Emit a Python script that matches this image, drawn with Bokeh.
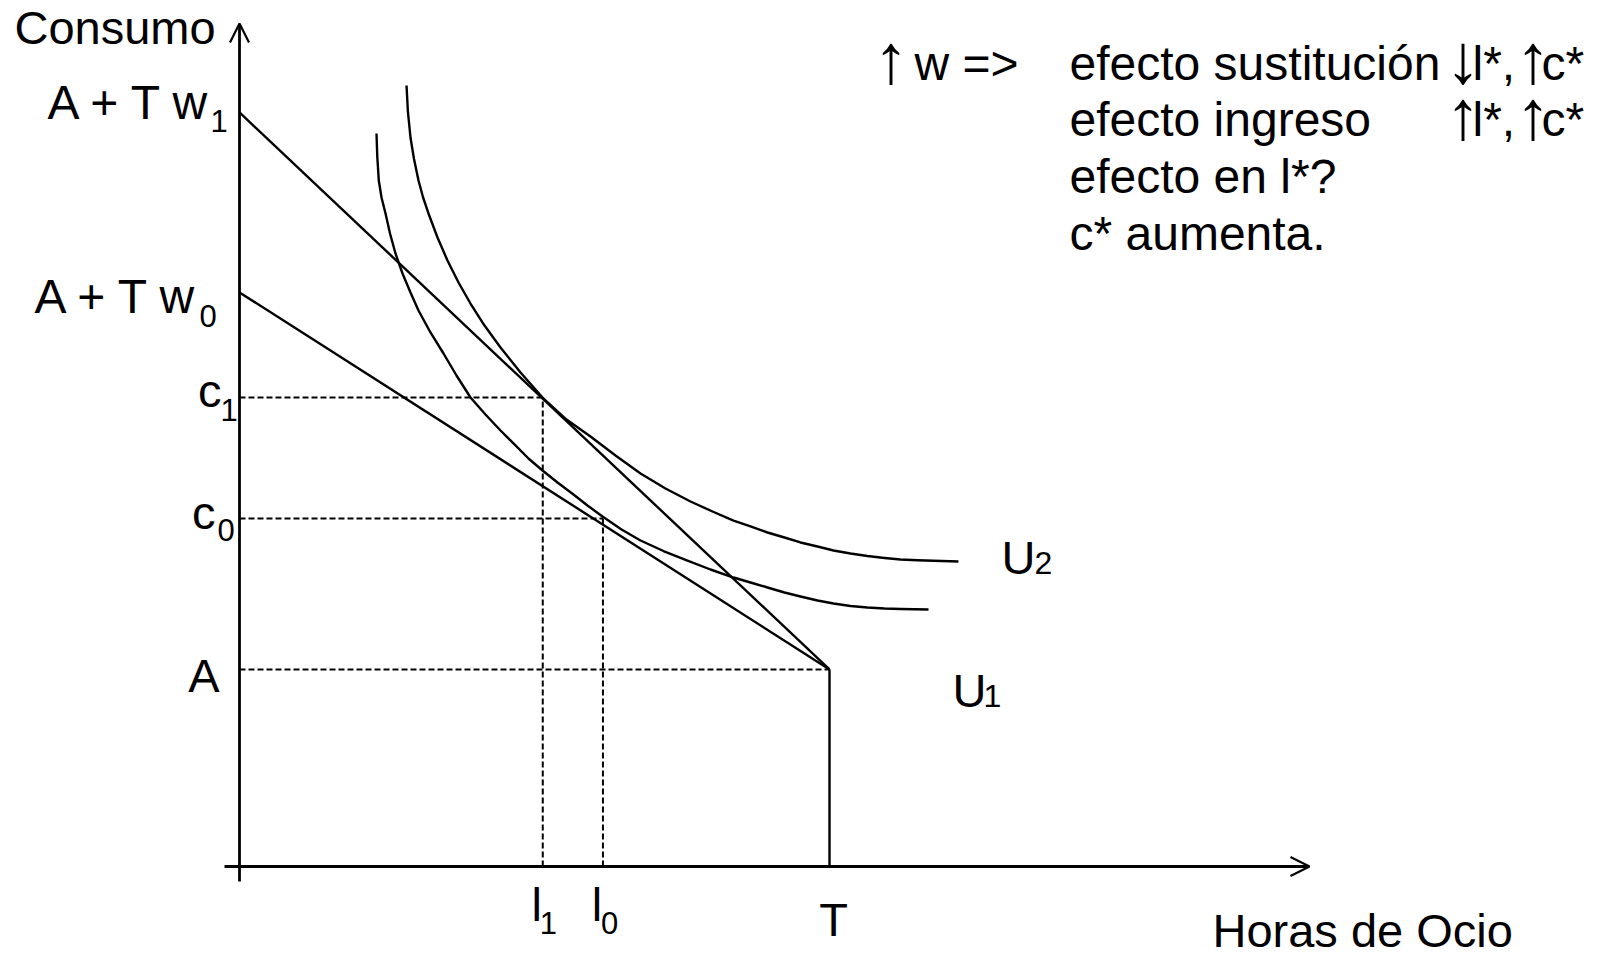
from bokeh.plotting import figure
from bokeh.models import Range1d, Arrow, OpenHead
from bokeh.core.properties import value
from bokeh.embed import file_html
from bokeh.resources import INLINE

# ---------------- data (units: T = 10) ----------------
T = 10.0
A = 3.34
A_TW1 = 12.78      # intercept of budget line with w1
A_TW0 = 9.73       # intercept of budget line with w0
c1 = 7.95
c0 = 5.90
l1 = 5.14
l0 = 6.16

# indifference curve U1 (inner)
u1_l = [2.322, 2.336, 2.361, 2.407, 2.475, 2.551, 2.644, 2.763, 2.898, 3.034,
        3.237, 3.458, 3.678, 3.915, 4.169, 4.424, 4.661, 4.898, 5.136, 5.390,
        5.661, 5.898, 6.153, 6.475, 6.797, 7.186, 7.593, 7.983, 8.373, 8.661,
        8.949, 9.237, 9.508, 9.797, 10.068, 10.356, 10.644, 10.932, 11.203, 11.678]
u1_c = [12.424, 12.017, 11.627, 11.339, 11.068, 10.729, 10.390, 10.051, 9.729, 9.424,
        9.051, 8.695, 8.322, 7.949, 7.661, 7.390, 7.153, 6.915, 6.712, 6.508,
        6.305, 6.119, 5.932, 5.712, 5.525, 5.347, 5.186, 5.034, 4.898, 4.814,
        4.729, 4.644, 4.576, 4.508, 4.458, 4.415, 4.390, 4.373, 4.364, 4.356]

# indifference curve U2 (outer)
u2_l = [2.831, 2.854, 2.898, 2.956, 3.034, 3.112, 3.203, 3.356, 3.525, 3.712,
        3.915, 4.153, 4.424, 4.763, 5.136, 5.542, 5.949, 6.373, 6.797, 7.220,
        7.644, 8.017, 8.373, 8.661, 8.949, 9.237, 9.508, 9.797, 10.068, 10.356,
        10.644, 10.932, 11.203, 11.492, 11.763, 12.186]
u2_c = [13.237, 12.797, 12.356, 12.000, 11.627, 11.339, 11.068, 10.661, 10.271, 9.898,
        9.542, 9.169, 8.797, 8.373, 7.949, 7.576, 7.288, 6.966, 6.661, 6.407,
        6.186, 6.017, 5.864, 5.763, 5.661, 5.576, 5.492, 5.424, 5.356, 5.305,
        5.263, 5.229, 5.203, 5.190, 5.181, 5.169]

# ---------------- layout ----------------
FONT = "Liberation Sans"
W, H = 1611, 959
SCALE = 59.0          # px per data unit
OX, OY = 239, 866     # pixel position of the origin in the canvas

x0 = -OX / SCALE
y1 = OY / SCALE

def X(px):  # canvas px -> data x
    return (px - OX) / SCALE

def Y(py):  # canvas py -> data y
    return (OY - py) / SCALE

def d(px):  # px length -> data length
    return px / SCALE

p = figure(width=W, height=H, output_backend="svg", toolbar_location=None,
           x_range=Range1d(x0, x0 + W / SCALE), y_range=Range1d(y1 - H / SCALE, y1),
           min_border=0, title=None)
p.xaxis.visible = False
p.yaxis.visible = False
p.grid.visible = False
p.outline_line_color = None
p.background_fill_color = "white"
p.border_fill_color = "white"

BLACK = "black"
LW = 2.4

# axes with open arrow heads
p.add_layout(Arrow(end=OpenHead(size=19, line_width=2.2, line_color=BLACK),
                   x_start=0, y_start=Y(881), x_end=0, y_end=Y(23),
                   line_width=2.8, line_color=BLACK))
p.add_layout(Arrow(end=OpenHead(size=19, line_width=2.2, line_color=BLACK),
                   x_start=X(224), y_start=0, x_end=X(1309), y_end=0,
                   line_width=2.8, line_color=BLACK))

# budget lines
p.line([0, T], [A_TW1, A], line_width=LW, line_color=BLACK)
p.line([0, T], [A_TW0, A], line_width=LW, line_color=BLACK)
p.line([T, T], [0, A], line_width=LW, line_color=BLACK)

# dashed guides
DASH = "6 3"
DW = 2.0
p.line([0, T], [A, A], line_width=DW, line_dash=DASH, line_color=BLACK)
p.line([0, l1], [c1, c1], line_width=DW, line_dash=DASH, line_color=BLACK)
p.line([l1, l1], [0, c1], line_width=DW, line_dash=DASH, line_color=BLACK)
p.line([0, l0], [c0, c0], line_width=DW, line_dash=DASH, line_color=BLACK)
p.line([l0, l0], [0, c0], line_width=DW, line_dash=DASH, line_color=BLACK)

# indifference curves
p.line(u1_l, u1_c, line_width=LW, line_color=BLACK, line_join="round")
p.line(u2_l, u2_c, line_width=LW, line_color=BLACK, line_join="round")

BASE_FIX = 0.39   # the renderer draws alphabetic text ~0.39 em lower

def label(x, y, s, size=47, align="left", font=FONT):
    p.text(x=[x], y=[y + d(BASE_FIX * size)], text=[s], text_font=value(font),
           text_font_size=value(f"{size}px"), text_align=align,
           text_baseline="alphabetic", text_color=BLACK)

SUB = 31

# axis titles
label(X(14), Y(45), "Consumo")
label(X(1212), Y(948), "Horas de Ocio")

# y-axis labels
label(X(211), A_TW1 - d(9), "A + T w", size=48, align="right")
label(X(210), A_TW1 - d(21), "1", size=SUB)
label(X(198), A_TW0 - d(23), "A + T w", size=48, align="right")
label(X(199), A_TW0 - d(36), "0", size=SUB)
label(X(221), c1 - d(11), "c", align="right")
label(X(220), c1 - d(25), "1", size=SUB)
label(X(215), c0 - d(12), "c", align="right")
label(X(217), c0 - d(24), "0", size=SUB)
label(X(219), A - d(24), "A", align="right")

# x-axis labels
label(l1 - d(6), -d(56), "l", align="center")
label(l1 - d(3), -d(69), "1", size=SUB)
label(l0 - d(6), -d(56), "l", align="center")
label(l0 - d(2), -d(69), "0", size=SUB)
label(T + d(4), -d(71), "T", align="center")

# curve labels
label(X(1001), Y(575), "U")
label(X(1034), Y(575), "2", size=32)
label(X(952), Y(708), "U")
label(X(983), Y(708), "1", size=32)

# text block
TB = 48
AR = 70
label(X(873), Y(86), "\u2191", size=AR)
label(X(914), Y(82), "w =>", size=TB)
label(X(1069), Y(82), "efecto sustituci\u00f3n", size=TB)
label(X(1445), Y(86), "\u2193", size=AR)
label(X(1472), Y(82), "l*,", size=TB)
label(X(1515), Y(86), "\u2191", size=AR)
label(X(1541), Y(82), "c*", size=TB)
label(X(1069), Y(138), "efecto ingreso", size=TB)
label(X(1445), Y(142), "\u2191", size=AR)
label(X(1472), Y(138), "l*,", size=TB)
label(X(1515), Y(142), "\u2191", size=AR)
label(X(1541), Y(138), "c*", size=TB)
label(X(1069), Y(195), "efecto en l*?", size=TB)
label(X(1069), Y(252), "c* aumenta.", size=TB)

open("out.html", "w").write(file_html(p, INLINE))
